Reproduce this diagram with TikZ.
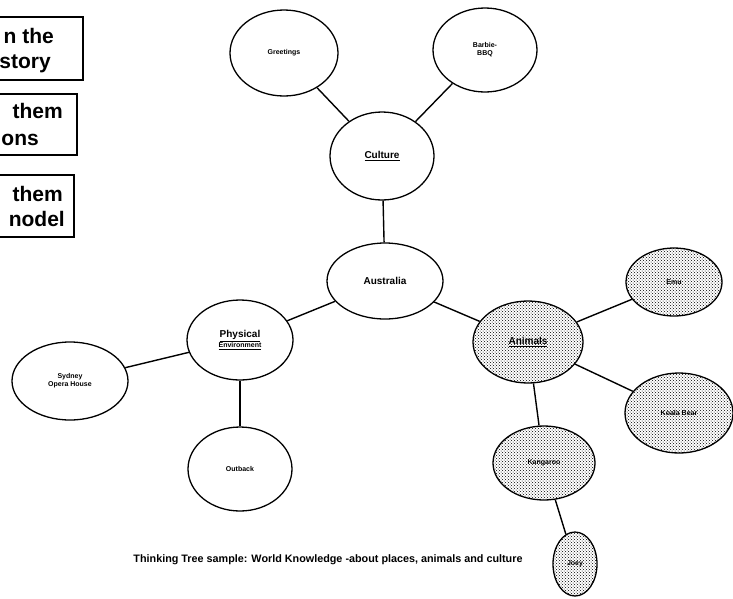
\documentclass[tikz,border=0pt]{standalone}
\usepackage{fontspec}
\setmainfont{Liberation Sans}
\usetikzlibrary{positioning, shapes.geometric, patterns}

\begin{document}
\begin{tikzpicture}[x=1pt, y=-1pt,
        every node/.style={font=\bfseries},
        topic/.style={ellipse, draw, line width=1.3pt, inner sep=0pt,
          align=center, font=\bfseries\fontsize{10}{11}\selectfont},
        leaf/.style={topic, font=\bfseries\fontsize{7}{8}\selectfont},
        speckle/.style={pattern=crosshatch dots, pattern color=black},
        link/.style={line width=1.4pt},
        strip/.style={draw, line width=1.3pt},
        cut/.style={anchor=base east, inner sep=0pt,
          font=\bfseries\fontsize{21}{23}\selectfont}]

      \useasboundingbox (0,0) rectangle (733,598);
      \clip (0,0) rectangle (733,598);

      % boxes cut at the left edge
      \draw[strip] (-10,17) rectangle (83,80);
      \node[cut] (b1a) at (54,43) {n the};
      \node[cut] (b1b) at (51,68) {story};
      \draw[strip] (-10,94) rectangle (77,155);
      \node[cut] (b2a) at (63,118) {them};
      \node[cut] (b2b) at (39,145) {ons};
      \draw[strip] (-10,175) rectangle (74,237);
      \node[cut] (b3a) at (63,201) {them};
      \node[cut] (b3b) at (65,226) {nodel};

      % the tree
      \node[leaf, minimum width=108pt, minimum height=86pt] (greet) at (284,53) {Greetings};
      \node[leaf, minimum width=104pt, minimum height=84pt] (bbq) at (485,50) {Barbie-\\BBQ};
      \node[topic, minimum width=104pt, minimum height=88pt] (culture) at (382,156) {\underline{Culture}};
      \node[topic, minimum width=116pt, minimum height=76pt] (aus) at (385,281) {Australia};
      \node[topic, minimum width=106pt, minimum height=80pt] (phys) at (240,340)
        {\underline{Physical}\\[-1pt]{\fontsize{7}{8}\selectfont\underline{Environment}}};
      \node[leaf, minimum width=116pt, minimum height=78pt] (opera) at (70,381) {Sydney\\Opera House};
      \node[leaf, minimum width=104pt, minimum height=84pt] (outback) at (240,469) {Outback};
      \node[topic, speckle, minimum width=110pt, minimum height=82pt] (animals) at (528,342) {\underline{Animals}};
      \node[leaf, speckle, minimum width=96pt, minimum height=68pt] (emu) at (674,282) {Emu};
      \node[leaf, speckle, minimum width=108pt, minimum height=80pt] (koala) at (679,413) {Koala Bear};
      \node[leaf, speckle, minimum width=102pt, minimum height=74pt] (kanga) at (544,463) {Kangaroo};
      \node[leaf, speckle, minimum width=44pt, minimum height=64pt] (joey) at (575,564) {Joey};

      \draw[link] (greet) -- (culture);
      \draw[link] (bbq) -- (culture);
      \draw[link] (culture) -- (aus);
      \draw[link] (aus) -- (phys);
      \draw[link] (aus) -- (animals);
      \draw[link] (phys) -- (opera);
      \draw[link] (phys) -- (outback);
      \draw[link] (animals) -- (emu);
      \draw[link] (animals) -- (koala);
      \draw[link] (animals) -- (kanga);
      \draw[link] (kanga) -- (joey);

      \node[font=\bfseries\fontsize{10.8}{12}\selectfont] (caption) at (328,560)
        {Thinking Tree sample: World Knowledge -about places, animals and culture};
    \end{tikzpicture}
\end{document}
